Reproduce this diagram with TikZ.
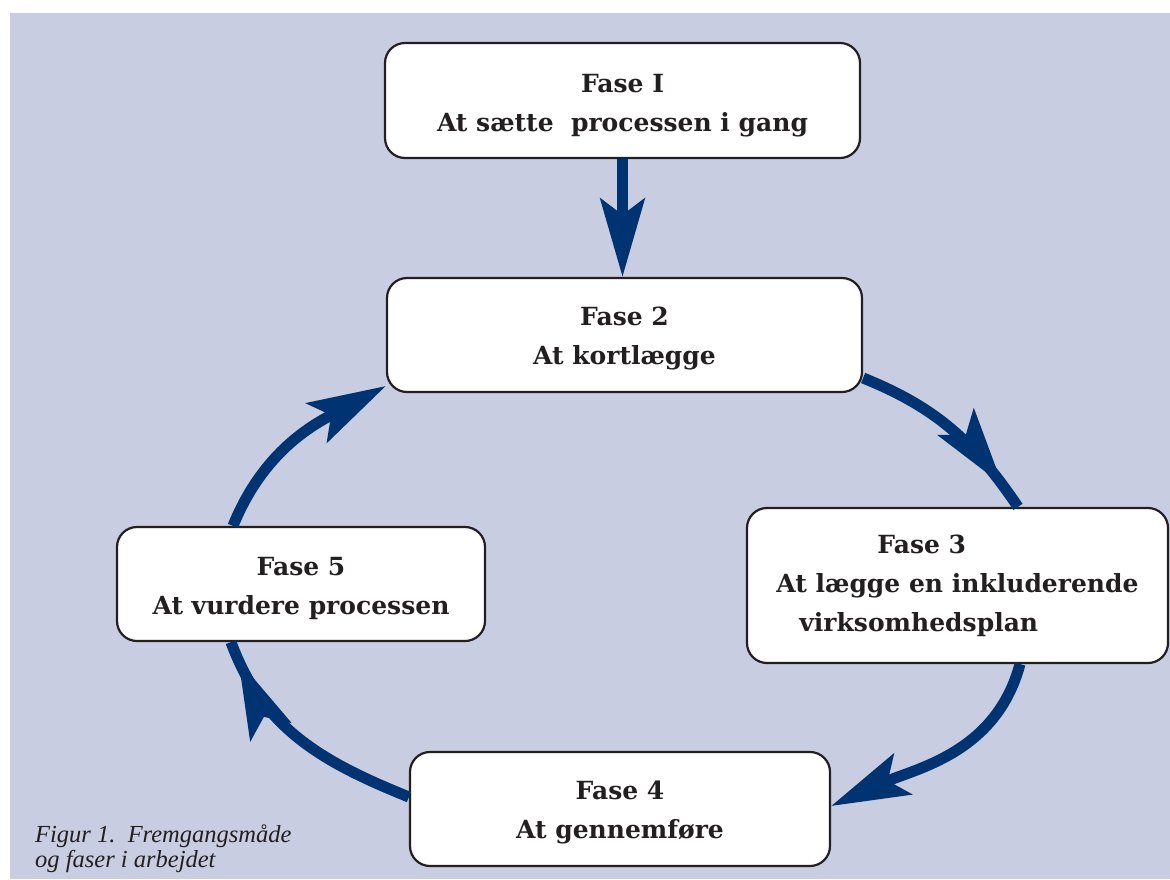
\documentclass[tikz,border=0pt]{standalone}
\usepackage{fontspec}
\setmainfont{DejaVu Serif}
\newfontfamily\capfont{Liberation Serif}
\usetikzlibrary{arrows.meta,decorations.markings}
\definecolor{bgc}{RGB}{200,205,225}
\definecolor{navy}{RGB}{0,51,114}
\definecolor{edge}{RGB}{35,31,32}
\begin{document}
\begin{tikzpicture}[x=1pt,y=1pt,
  >={Stealth[length=78pt,width=44pt,inset=16pt]},
  phase/.style={draw=edge,line width=2.2pt,fill=white,rounded corners=20pt,text=edge,
    align=center,font=\fontsize{25}{39}\selectfont\bfseries,inner sep=0pt},
  flow/.style={draw=navy,line width=11pt},
  midtip/.style={postaction={decorate},
    decoration={markings,mark=at position #1 with {\arrow[navy]{>}}}},
]
\useasboundingbox (0,0) rectangle (1170,-879);
\fill[bgc] (10,-13) rectangle (1170,-879);

\node[phase,minimum width=475pt,minimum height=115pt] (f1) at (622.5,-100.5)
  {\rule{0pt}{28pt}Fase I\\At sætte\ \ processen i gang};
\node[phase,minimum width=475pt,minimum height=114pt] (f2) at (624.5,-335)
  {\rule{0pt}{26pt}Fase 2\\At kortlægge};
\node[phase,minimum width=421pt,minimum height=155pt,align=left] (f3) at (957.5,-585.5)
  {\hspace*{101pt}Fase 3\\At lægge en inkluderende\\\hspace*{23pt}virksomhedsplan};
\node[phase,minimum width=420pt,minimum height=114pt] (f4) at (620,-809)
  {\rule{0pt}{26pt}Fase 4\\At gennemføre};
\node[phase,minimum width=368pt,minimum height=114pt] (f5) at (301,-584)
  {\rule{0pt}{27pt}Fase 5\\At vurdere processen};

\node[anchor=north west,inner sep=0pt,align=left,text=edge,
  font=\capfont\itshape\fontsize{24.5}{25}\selectfont] (cap) at (35,-825)
  {Figur 1.\ \ Fremgangsmåde\\og faser i arbejdet};

% connectors
\draw[flow,->] (f1.south) -- (f1.south |- f2.north);
\draw[flow,midtip=0.87] (f2.east |- 0,-378) to[out=-22,in=124] (f3.north -| 1018,0);
\draw[flow,->] (f3.south -| 1020,0) to[out=-105,in=24] (f4.east |- 0,-806);
\draw[flow,midtip=0.92] (f4.west |- 0,-797) to[out=158,in=-70] (f5.south -| 231,0);
\draw[flow,->] (f5.north -| 233,0) to[out=68,in=-152] (f2.west |- 0,-386);
\end{tikzpicture}
\end{document}
